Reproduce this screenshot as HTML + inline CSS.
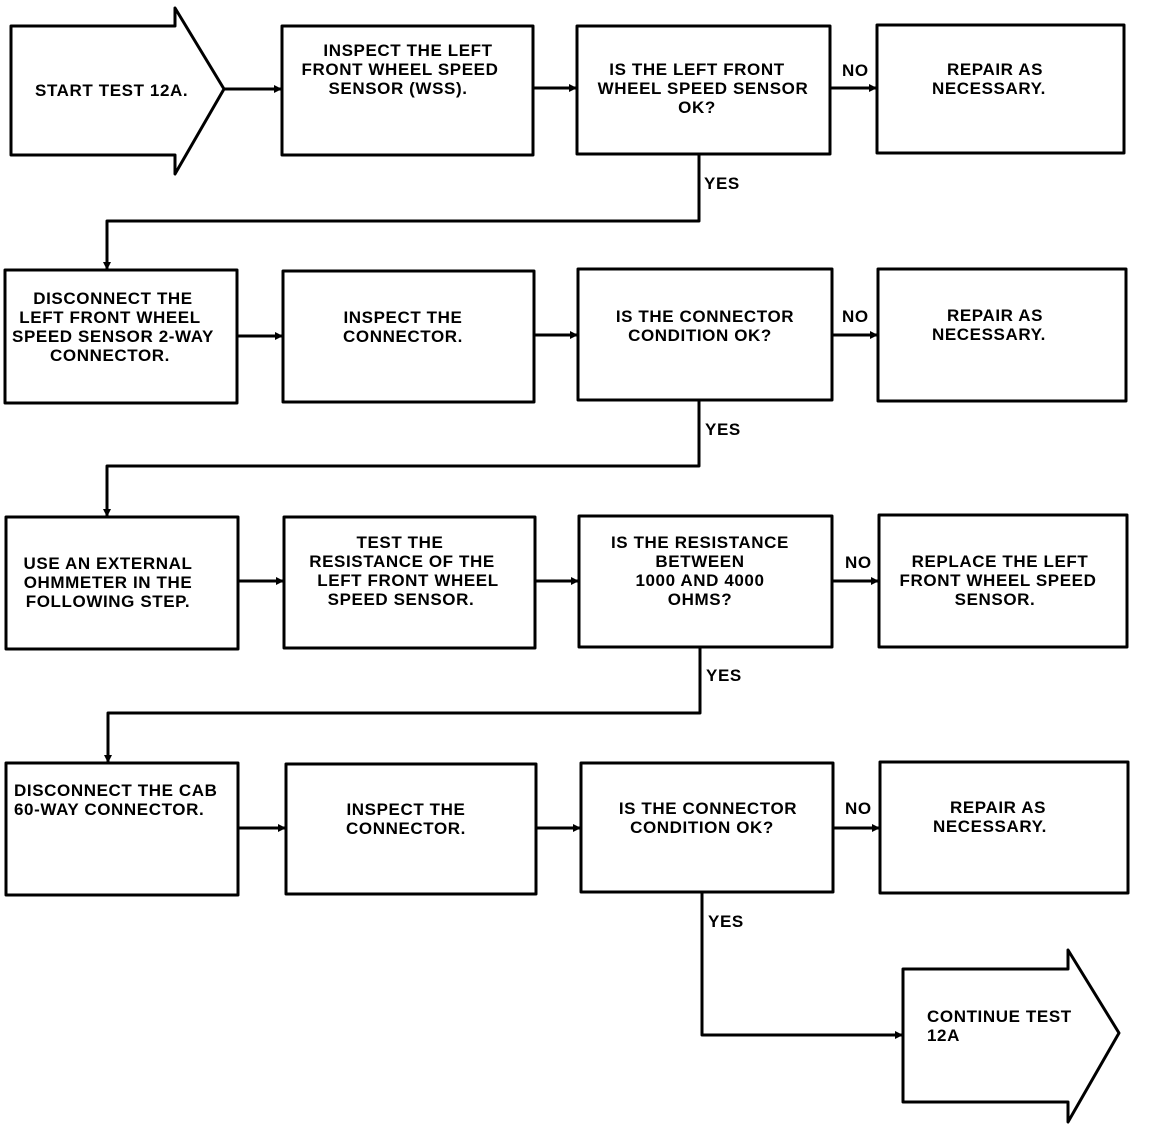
<!DOCTYPE html>
<html><head><meta charset="utf-8"><style>
html,body{margin:0;padding:0;background:#fff;}
svg{display:block;}
text{font-family:"Liberation Sans",sans-serif;font-size:17px;font-weight:bold;fill:#000;letter-spacing:0.6px;}
</style></head><body>
<svg width="1152" height="1124" viewBox="0 0 1152 1124" xmlns="http://www.w3.org/2000/svg">
<g fill="none" stroke="#000" stroke-width="3" stroke-linejoin="round">
<polygon points="11,26 175,26 175,8 224,89 175,174 175,155 11,155"/>
<rect x="282" y="26" width="251" height="129"/>
<rect x="577" y="26" width="253" height="128"/>
<rect x="877" y="25" width="247" height="128"/>
<rect x="5" y="270" width="232" height="133"/>
<rect x="283" y="271" width="251" height="131"/>
<rect x="578" y="269" width="254" height="131"/>
<rect x="878" y="269" width="248" height="132"/>
<rect x="6" y="517" width="232" height="132"/>
<rect x="284" y="517" width="251" height="131"/>
<rect x="579" y="516" width="253" height="131"/>
<rect x="879" y="515" width="248" height="132"/>
<rect x="6" y="763" width="232" height="132"/>
<rect x="286" y="764" width="250" height="130"/>
<rect x="581" y="763" width="252" height="129"/>
<rect x="880" y="762" width="248" height="131"/>
<polygon points="903,969 1068,969 1068,950 1119,1033 1068,1122 1068,1102 903,1102"/>
<polyline points="224,89 282,89"/>
<polyline points="533,88 577,88"/>
<polyline points="830,88 877,88"/>
<polyline points="699,154 699,221 107,221 107,270"/>
<polyline points="237,336 283,336"/>
<polyline points="534,335 578,335"/>
<polyline points="832,335 878,335"/>
<polyline points="699,400 699,466 107,466 107,517"/>
<polyline points="238,581 284,581"/>
<polyline points="535,581 579,581"/>
<polyline points="832,581 879,581"/>
<polyline points="700,647 700,713 108,713 108,763"/>
<polyline points="238,828 286,828"/>
<polyline points="536,828 581,828"/>
<polyline points="833,828 880,828"/>
<polyline points="702,892 702,1035 903,1035"/>
</g>
<g fill="#000">
<polygon points="282,89 274,85 274,93"/>
<polygon points="577,88 569,84 569,92"/>
<polygon points="877,88 869,84 869,92"/>
<polygon points="107,270 103,262 111,262"/>
<polygon points="283,336 275,332 275,340"/>
<polygon points="578,335 570,331 570,339"/>
<polygon points="878,335 870,331 870,339"/>
<polygon points="107,517 103,509 111,509"/>
<polygon points="284,581 276,577 276,585"/>
<polygon points="579,581 571,577 571,585"/>
<polygon points="879,581 871,577 871,585"/>
<polygon points="108,763 104,755 112,755"/>
<polygon points="286,828 278,824 278,832"/>
<polygon points="581,828 573,824 573,832"/>
<polygon points="880,828 872,824 872,832"/>
<polygon points="903,1035 895,1031 895,1039"/>
</g>
<g>
<text x="35" y="96">START TEST 12A.</text>
<g text-anchor="middle">
<text x="408" y="56">INSPECT THE LEFT</text>
<text x="400" y="75">FRONT WHEEL SPEED</text>
<text x="398" y="94">SENSOR (WSS).</text>
<text x="697" y="75">IS THE LEFT FRONT</text>
<text x="703" y="94">WHEEL SPEED SENSOR</text>
<text x="697" y="113">OK?</text>
<text x="995" y="75">REPAIR AS</text>
<text x="989" y="94">NECESSARY.</text>
<text x="113" y="304">DISCONNECT THE</text>
<text x="110" y="323">LEFT FRONT WHEEL</text>
<text x="113" y="342">SPEED SENSOR 2-WAY</text>
<text x="110" y="361">CONNECTOR.</text>
<text x="403" y="323">INSPECT THE</text>
<text x="403" y="342">CONNECTOR.</text>
<text x="705" y="322">IS THE CONNECTOR</text>
<text x="700" y="341">CONDITION OK?</text>
<text x="995" y="321">REPAIR AS</text>
<text x="989" y="340">NECESSARY.</text>
<text x="108" y="569">USE AN EXTERNAL</text>
<text x="108" y="588">OHMMETER IN THE</text>
<text x="108" y="607">FOLLOWING STEP.</text>
<text x="400" y="548">TEST THE</text>
<text x="402" y="567">RESISTANCE OF THE</text>
<text x="408" y="586">LEFT FRONT WHEEL</text>
<text x="401" y="605">SPEED SENSOR.</text>
<text x="700" y="548">IS THE RESISTANCE</text>
<text x="700" y="567">BETWEEN</text>
<text x="700" y="586">1000 AND 4000</text>
<text x="700" y="605">OHMS?</text>
<text x="1000" y="567">REPLACE THE LEFT</text>
<text x="998" y="586">FRONT WHEEL SPEED</text>
<text x="995" y="605">SENSOR.</text>
<text x="406" y="815">INSPECT THE</text>
<text x="406" y="834">CONNECTOR.</text>
<text x="708" y="814">IS THE CONNECTOR</text>
<text x="702" y="833">CONDITION OK?</text>
<text x="998" y="813">REPAIR AS</text>
<text x="990" y="832">NECESSARY.</text>
</g>
<text x="14" y="796">DISCONNECT THE CAB</text>
<text x="14" y="815">60-WAY CONNECTOR.</text>
<text x="927" y="1022">CONTINUE TEST</text>
<text x="927" y="1041">12A</text>
<text x="842" y="76">NO</text>
<text x="842" y="322">NO</text>
<text x="845" y="568">NO</text>
<text x="845" y="814">NO</text>
<text x="704" y="189">YES</text>
<text x="705" y="435">YES</text>
<text x="706" y="681">YES</text>
<text x="708" y="927">YES</text>
</g>
</svg>
</body></html>
